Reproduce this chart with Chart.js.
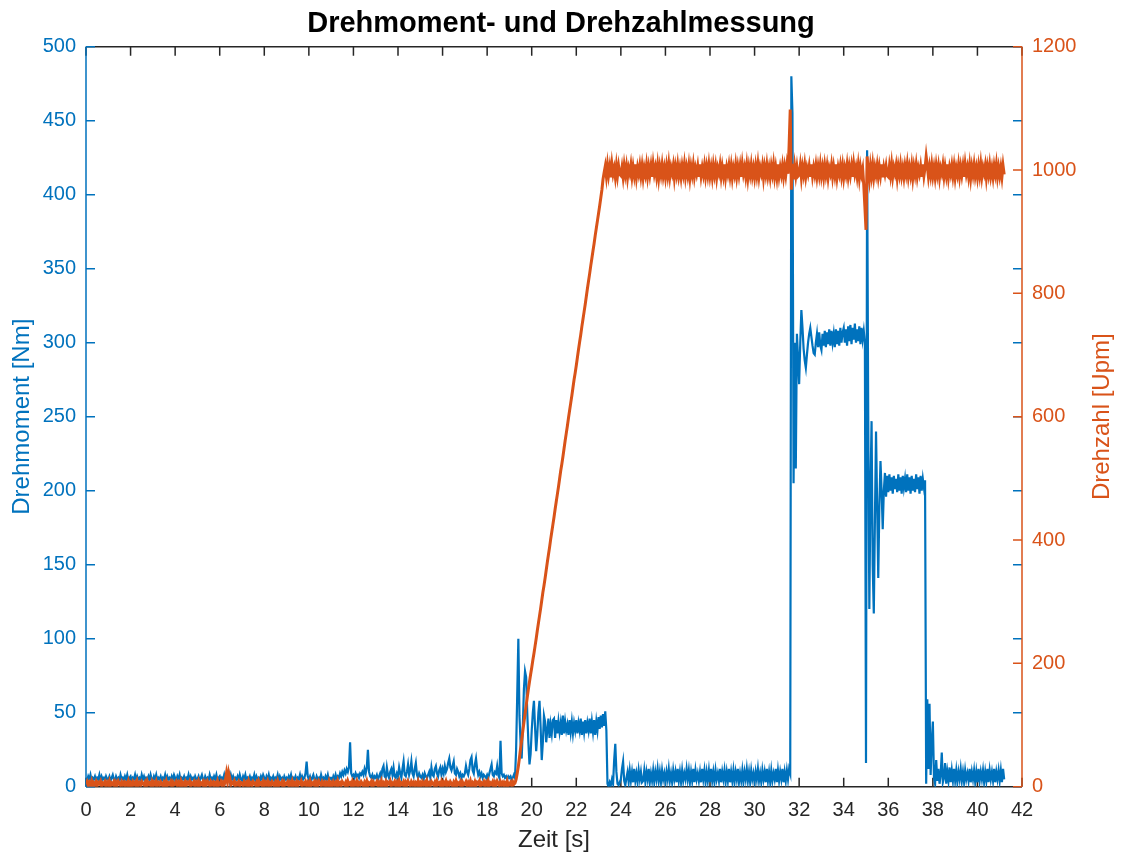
<!DOCTYPE html>
<html lang="de">
<head>
<meta charset="utf-8">
<title>Drehmoment- und Drehzahlmessung</title>
<script src="https://cdn.jsdelivr.net/npm/chart.js@4.4.1/dist/chart.umd.min.js"></script>
<style>
html,body{margin:0;padding:0;background:#fff;}
canvas{display:block;}
</style>
</head>
<body>
<canvas id="c" width="1122" height="857"></canvas>
<script>
const FONT = '"Liberation Sans", Arial, Helvetica, sans-serif';
const BLAU = '#0072BD', ORANGE = '#D95319', ACHSE = '#262626';

// Messdaten, Abtastung alle 0,05 s ab t = 0 s (eine Zeile = eine Sekunde)
const abtastzeit = 0.05;

// Drehmoment [Nm]
const drehmoment = [
  6,4,7,5,8,4,6,5,7,4,6,5,8,4,7,5,6,4,7,5,               // 0 s
  5,7,4,6,8,5,4,7,5,6,4,8,5,6,4,7,5,8,4,6,
  7,4,6,5,8,4,7,5,6,4,8,5,7,4,6,5,7,4,8,5,
  4,7,5,8,4,6,5,7,4,6,5,8,4,7,5,6,4,7,5,8,
  6,4,7,5,8,4,6,5,7,4,6,5,8,4,7,5,6,4,7,5,
  5,7,4,6,8,5,4,7,5,6,4,8,5,6,4,7,5,8,4,6,               // 5 s
  7,4,6,5,8,4,7,5,9,4,8,5,7,4,6,5,7,4,8,5,
  4,7,5,8,4,6,5,7,4,6,5,8,4,7,5,6,4,7,5,8,
  6,4,7,5,8,4,6,5,7,4,6,5,8,4,7,5,6,4,7,5,
  6,4,7,5,8,4,6,5,7,4,6,5,8,4,7,5,6,9,17,7,
  5,7,4,6,8,5,4,7,5,6,4,8,5,6,4,7,5,8,4,6,               // 10 s
  6,4,7,5,8,5,7,6,9,7,10,8,11,9,12,10,13,30,9,7,
  8,6,9,7,8,6,9,8,10,8,12,9,13,25,10,7,6,8,5,7,
  6,8,5,7,9,6,12,14,7,6,13,8,6,10,12,8,13,7,6,9,
  7,13,9,6,12,17,8,7,10,15,8,11,17,9,7,12,16,8,6,9,
  7,6,8,5,9,7,6,8,10,6,13,8,7,12,14,9,7,11,13,8,         // 15 s
  12,9,14,10,12,16,19,13,11,14,17,9,8,12,10,7,9,6,8,7,
  9,14,10,8,12,18,20,11,9,15,19,12,8,10,7,9,6,8,7,6,
  8,6,9,12,15,8,7,10,9,14,8,6,31,9,7,8,6,7,5,7,
  6,7,5,6,8,6,25,62,100,48,30,19,40,66,78,74,50,30,15,22,
  38,50,58,40,24,35,50,58,40,18,30,48,44,30,38,46,33,42,36,45,   // 20 s
  46,33,45,36,44,37,43,35,48,36,44,38,42,35,45,37,44,36,43,38,
  45,36,43,38,46,35,44,37,45,36,43,38,46,36,44,37,45,35,44,38,
  47,39,48,40,49,41,51,38,2,0,3,1,5,2,18,29,10,2,1,3,
  5,12,17,4,1,6,10,3,11,4,10,3,12,4,9,3,11,5,10,3,
  4,11,3,10,5,12,3,9,4,11,3,10,5,12,4,10,3,11,5,9,       // 25 s
  3,10,5,12,4,9,3,11,5,10,3,12,4,10,3,11,4,9,5,12,
  5,11,3,10,4,12,3,11,5,9,4,10,3,12,5,11,3,10,4,11,
  3,12,4,10,3,11,5,9,4,12,3,10,5,11,3,10,4,12,3,10,
  4,11,3,10,5,12,3,9,4,11,3,10,5,12,4,10,3,11,5,9,
  3,10,5,12,4,9,3,11,5,10,3,12,4,10,3,11,4,9,5,12,       // 30 s
  3,11,4,10,5,12,3,10,4,11,5,12,9,480,455,205,300,215,306,290,
  272,300,322,310,296,288,283,292,300,306,310,304,298,293,292,300,306,297,307,298,
  295,306,298,308,297,307,299,309,298,308,300,306,297,309,299,308,298,310,300,307,
  310,300,309,298,311,301,312,299,310,302,313,300,309,301,311,299,310,302,308,300,
  16,430,250,120,200,247,150,117,180,240,190,141,190,220,200,174,200,212,196,210,   // 35 s
  199,211,200,209,198,210,201,208,199,211,200,209,198,210,202,208,199,211,200,209,
  198,210,200,208,199,211,201,209,198,210,200,208,202,207,2,59,12,56,8,30,
  44,6,2,18,4,12,2,8,23,3,6,16,2,10,4,13,3,11,4,12,
  4,11,3,10,5,12,4,10,3,11,5,9,4,12,3,10,5,11,3,10,
  3,12,4,10,5,11,3,10,4,12,3,11,5,10,4,12,3,10,5,11,     // 40 s
  4,11,3,12,5
];

// Drehzahl [Upm]
const drehzahl = [
  4,8,2,7,3,9,1,6,3,8,2,7,5,9,1,6,4,8,2,7,               // 0 s
  3,9,2,6,4,8,1,7,3,9,5,2,8,4,7,1,6,3,9,2,
  6,2,8,4,7,1,9,3,6,2,8,5,3,7,1,9,4,6,2,8,
  1,7,4,9,2,6,3,8,5,1,7,3,9,2,6,4,8,1,7,3,
  4,8,2,7,3,9,1,6,3,8,2,7,5,9,1,6,4,8,2,7,
  3,9,2,6,4,8,1,7,3,9,5,2,8,4,7,1,6,3,9,2,               // 5 s
  4,8,2,7,3,9,21,8,23,15,3,7,5,9,1,6,4,8,2,7,
  6,2,8,4,7,1,9,3,6,2,8,5,3,7,1,9,4,6,2,8,
  1,7,4,9,2,6,3,8,5,1,7,3,9,2,6,4,8,1,7,3,
  4,8,2,7,3,9,1,6,3,8,2,7,5,9,1,6,4,8,2,7,
  3,9,2,6,4,8,1,7,3,9,5,2,8,4,7,1,6,3,9,2,               // 10 s
  6,2,8,4,7,1,9,3,6,2,8,5,3,7,1,9,4,6,2,8,
  1,7,4,9,2,6,3,8,5,1,7,3,9,2,6,4,8,1,7,3,
  4,8,2,7,3,9,1,6,3,8,2,7,5,9,1,6,4,8,2,7,
  3,9,2,6,4,8,1,7,3,9,5,2,8,4,7,1,6,3,9,2,
  6,2,8,4,7,1,9,3,6,2,8,5,3,7,1,9,4,6,2,8,               // 15 s
  1,7,4,9,2,6,3,8,5,1,7,3,9,2,6,4,8,1,7,3,
  4,8,2,7,3,9,1,6,3,8,2,7,5,9,1,6,4,8,2,7,
  3,9,2,6,4,8,1,7,3,9,5,2,8,4,7,1,6,3,9,2,
  3,7,2,8,4,6,12,22,33,47,62,76,90,104,118,131,145,158,170,182,
  193,205,216,228,240,253,265,277,289,302,315,326,338,351,364,376,388,401,413,425,   // 20 s
  437,450,462,474,486,499,512,523,535,548,561,573,585,598,610,622,634,647,660,671,
  683,696,709,721,733,746,758,770,782,795,808,820,832,845,857,869,881,894,906,918,
  930,942,955,968,985,996,1006,990,1008,992,1005,988,1009,994,1003,989,1007,991,1006,993,
  991,1004,989,1007,993,1006,988,1003,995,1008,990,1005,992,1009,989,1004,994,1007,991,1006,
  988,1003,993,1008,990,1005,992,1006,989,1009,994,1004,990,1007,988,1005,993,1008,991,1003,   // 25 s
  989,1006,992,1009,990,1004,995,1007,988,1005,993,1008,991,1003,989,1006,994,1009,990,1004,
  992,1007,988,1005,993,1008,990,1003,994,1006,989,1009,991,1004,993,1007,990,1005,992,1008,
  991,1004,989,1007,993,1006,988,1003,995,1008,990,1005,992,1009,989,1004,994,1007,991,1006,
  988,1003,993,1008,990,1005,992,1006,989,1009,994,1004,990,1007,988,1005,993,1008,991,1003,
  989,1006,992,1009,990,1004,995,1007,988,1005,993,1008,991,1003,989,1006,994,1009,990,1004,   // 30 s
  989,1009,991,1004,993,1007,990,1005,992,1008,994,1040,1098,968,1010,985,1006,991,1005,990,
  992,1007,988,1005,993,1008,990,1003,994,1006,989,1009,991,1004,993,1007,990,1005,992,1008,
  991,1004,989,1007,993,1006,988,1003,995,1008,990,1005,992,1009,989,1004,994,1007,991,1006,
  988,1003,993,1008,990,1005,992,1006,989,1009,994,1004,990,1007,988,1005,993,1002,975,940,
  903,1022,1000,985,1006,991,1008,989,1004,993,1007,990,1005,992,1009,988,1004,994,1006,991,   // 35 s
  989,1006,992,1009,990,1004,995,1007,988,1005,993,1008,991,1003,989,1006,994,1009,990,1004,
  992,1007,988,1005,993,1008,990,1003,994,1006,989,1009,991,1004,1022,1007,990,1005,992,1008,
  991,1004,989,1007,993,1006,988,1003,995,1008,990,1005,992,1009,989,1004,994,1007,991,1006,
  988,1003,993,1008,990,1005,992,1006,989,1009,994,1004,990,1007,988,1005,993,1008,991,1003,
  989,1006,992,1009,990,1004,995,1007,988,1005,993,1008,991,1003,989,1006,994,1009,990,1004,   // 40 s
  991,1004,989,1007,993
];

// Achsbereiche und Teilung
const zeitBereich = [0, 42], zeitSchritt = 2;
const momentBereich = [0, 500], momentSchritt = 50;
const drehzahlBereich = [0, 1200], drehzahlSchritt = 200;

function alsPunkte(werte) {
  return werte.map((v, i) => ({ x: Math.round(i * abtastzeit * 100) / 100, y: v }));
}

// Achslinien mit nach innen gerichteten Teilstrichen (Box-Stil)
const rahmen = {
  id: 'rahmen',
  beforeDatasetsDraw(chart) {
    const { ctx, chartArea: a, scales } = chart;
    const L = 9;
    ctx.save();
    ctx.lineWidth = 1.5;
    ctx.strokeStyle = ACHSE;
    ctx.beginPath();
    ctx.moveTo(a.left, a.top); ctx.lineTo(a.right, a.top);
    ctx.moveTo(a.left, a.bottom); ctx.lineTo(a.right, a.bottom);
    scales.x.ticks.forEach(t => {
      const px = scales.x.getPixelForValue(t.value);
      ctx.moveTo(px, a.bottom); ctx.lineTo(px, a.bottom - L);
      ctx.moveTo(px, a.top); ctx.lineTo(px, a.top + L);
    });
    ctx.stroke();

    ctx.strokeStyle = BLAU;
    ctx.beginPath();
    ctx.moveTo(a.left, a.top); ctx.lineTo(a.left, a.bottom);
    scales.y.ticks.forEach(t => {
      const py = scales.y.getPixelForValue(t.value);
      ctx.moveTo(a.left, py); ctx.lineTo(a.left + L, py);
      ctx.moveTo(a.right, py); ctx.lineTo(a.right - L, py);
    });
    ctx.stroke();

    ctx.strokeStyle = ORANGE;
    ctx.beginPath();
    ctx.moveTo(a.right, a.top); ctx.lineTo(a.right, a.bottom);
    scales.y1.ticks.forEach(t => {
      const py = scales.y1.getPixelForValue(t.value);
      ctx.moveTo(a.right, py); ctx.lineTo(a.right - L, py);
    });
    ctx.stroke();
    ctx.restore();
  },
  afterDraw(chart) {
    // rechte Achsbeschriftung, von unten nach oben gelesen
    const { ctx, chartArea: a } = chart;
    ctx.save();
    ctx.translate(a.right + 87, (a.top + a.bottom) / 2);
    ctx.rotate(-Math.PI / 2);
    ctx.font = '24px ' + FONT;
    ctx.fillStyle = ORANGE;
    ctx.textAlign = 'center';
    ctx.textBaseline = 'alphabetic';
    ctx.fillText('Drehzahl [Upm]', 0, 0);
    ctx.restore();
  }
};

const tickFont = { family: FONT, size: 20 };
const titelFont = { family: FONT, size: 24 };
const zahl = v => String(v);

new Chart(document.getElementById('c'), {
  type: 'line',
  data: {
    datasets: [
      {
        label: 'Drehzahl',
        data: alsPunkte(drehzahl),
        yAxisID: 'y1',
        borderColor: ORANGE,
        borderWidth: 3,
        pointRadius: 0,
        tension: 0,
        order: 0
      },
      {
        label: 'Drehmoment',
        data: alsPunkte(drehmoment),
        yAxisID: 'y',
        borderColor: BLAU,
        borderWidth: 2.2,
        pointRadius: 0,
        tension: 0,
        order: 1
      }
    ]
  },
  options: {
    responsive: false,
    animation: false,
    devicePixelRatio: 1,
    layout: { padding: 0 },
    plugins: {
      legend: { display: false },
      tooltip: { enabled: false },
      title: {
        display: true,
        text: 'Drehmoment- und Drehzahlmessung',
        color: '#000',
        font: { family: FONT, size: 29, weight: 'bold' },
        padding: { top: 7, bottom: 4.9 }
      }
    },
    scales: {
      x: {
        type: 'linear',
        position: 'bottom',
        min: zeitBereich[0], max: zeitBereich[1],
        afterFit(s) { s.height = 70.3; },
        grid: { display: false, drawTicks: false },
        border: { display: false },
        ticks: { stepSize: zeitSchritt, autoSkip: false, maxRotation: 0, padding: 12, color: ACHSE, font: tickFont, callback: zahl },
        title: { display: true, text: 'Zeit [s]', color: ACHSE, font: titelFont, padding: { top: 0, bottom: 2 } }
      },
      y: {
        type: 'linear',
        position: 'left',
        min: momentBereich[0], max: momentBereich[1],
        afterFit(s) { s.width = 86; },
        grid: { display: false, drawTicks: false },
        border: { display: false },
        ticks: { stepSize: momentSchritt, padding: 10, color: BLAU, font: tickFont, callback: zahl },
        title: { display: true, text: 'Drehmoment [Nm]', color: BLAU, font: titelFont, padding: { top: 8, bottom: 0 } }
      },
      y1: {
        type: 'linear',
        position: 'right',
        min: drehzahlBereich[0], max: drehzahlBereich[1],
        afterFit(s) { s.width = 100; },
        grid: { display: false, drawTicks: false },
        border: { display: false },
        ticks: { stepSize: drehzahlSchritt, padding: 10, color: ORANGE, font: tickFont, callback: zahl },
        title: { display: false }
      }
    }
  },
  plugins: [rahmen]
});
</script>
</body>
</html>
